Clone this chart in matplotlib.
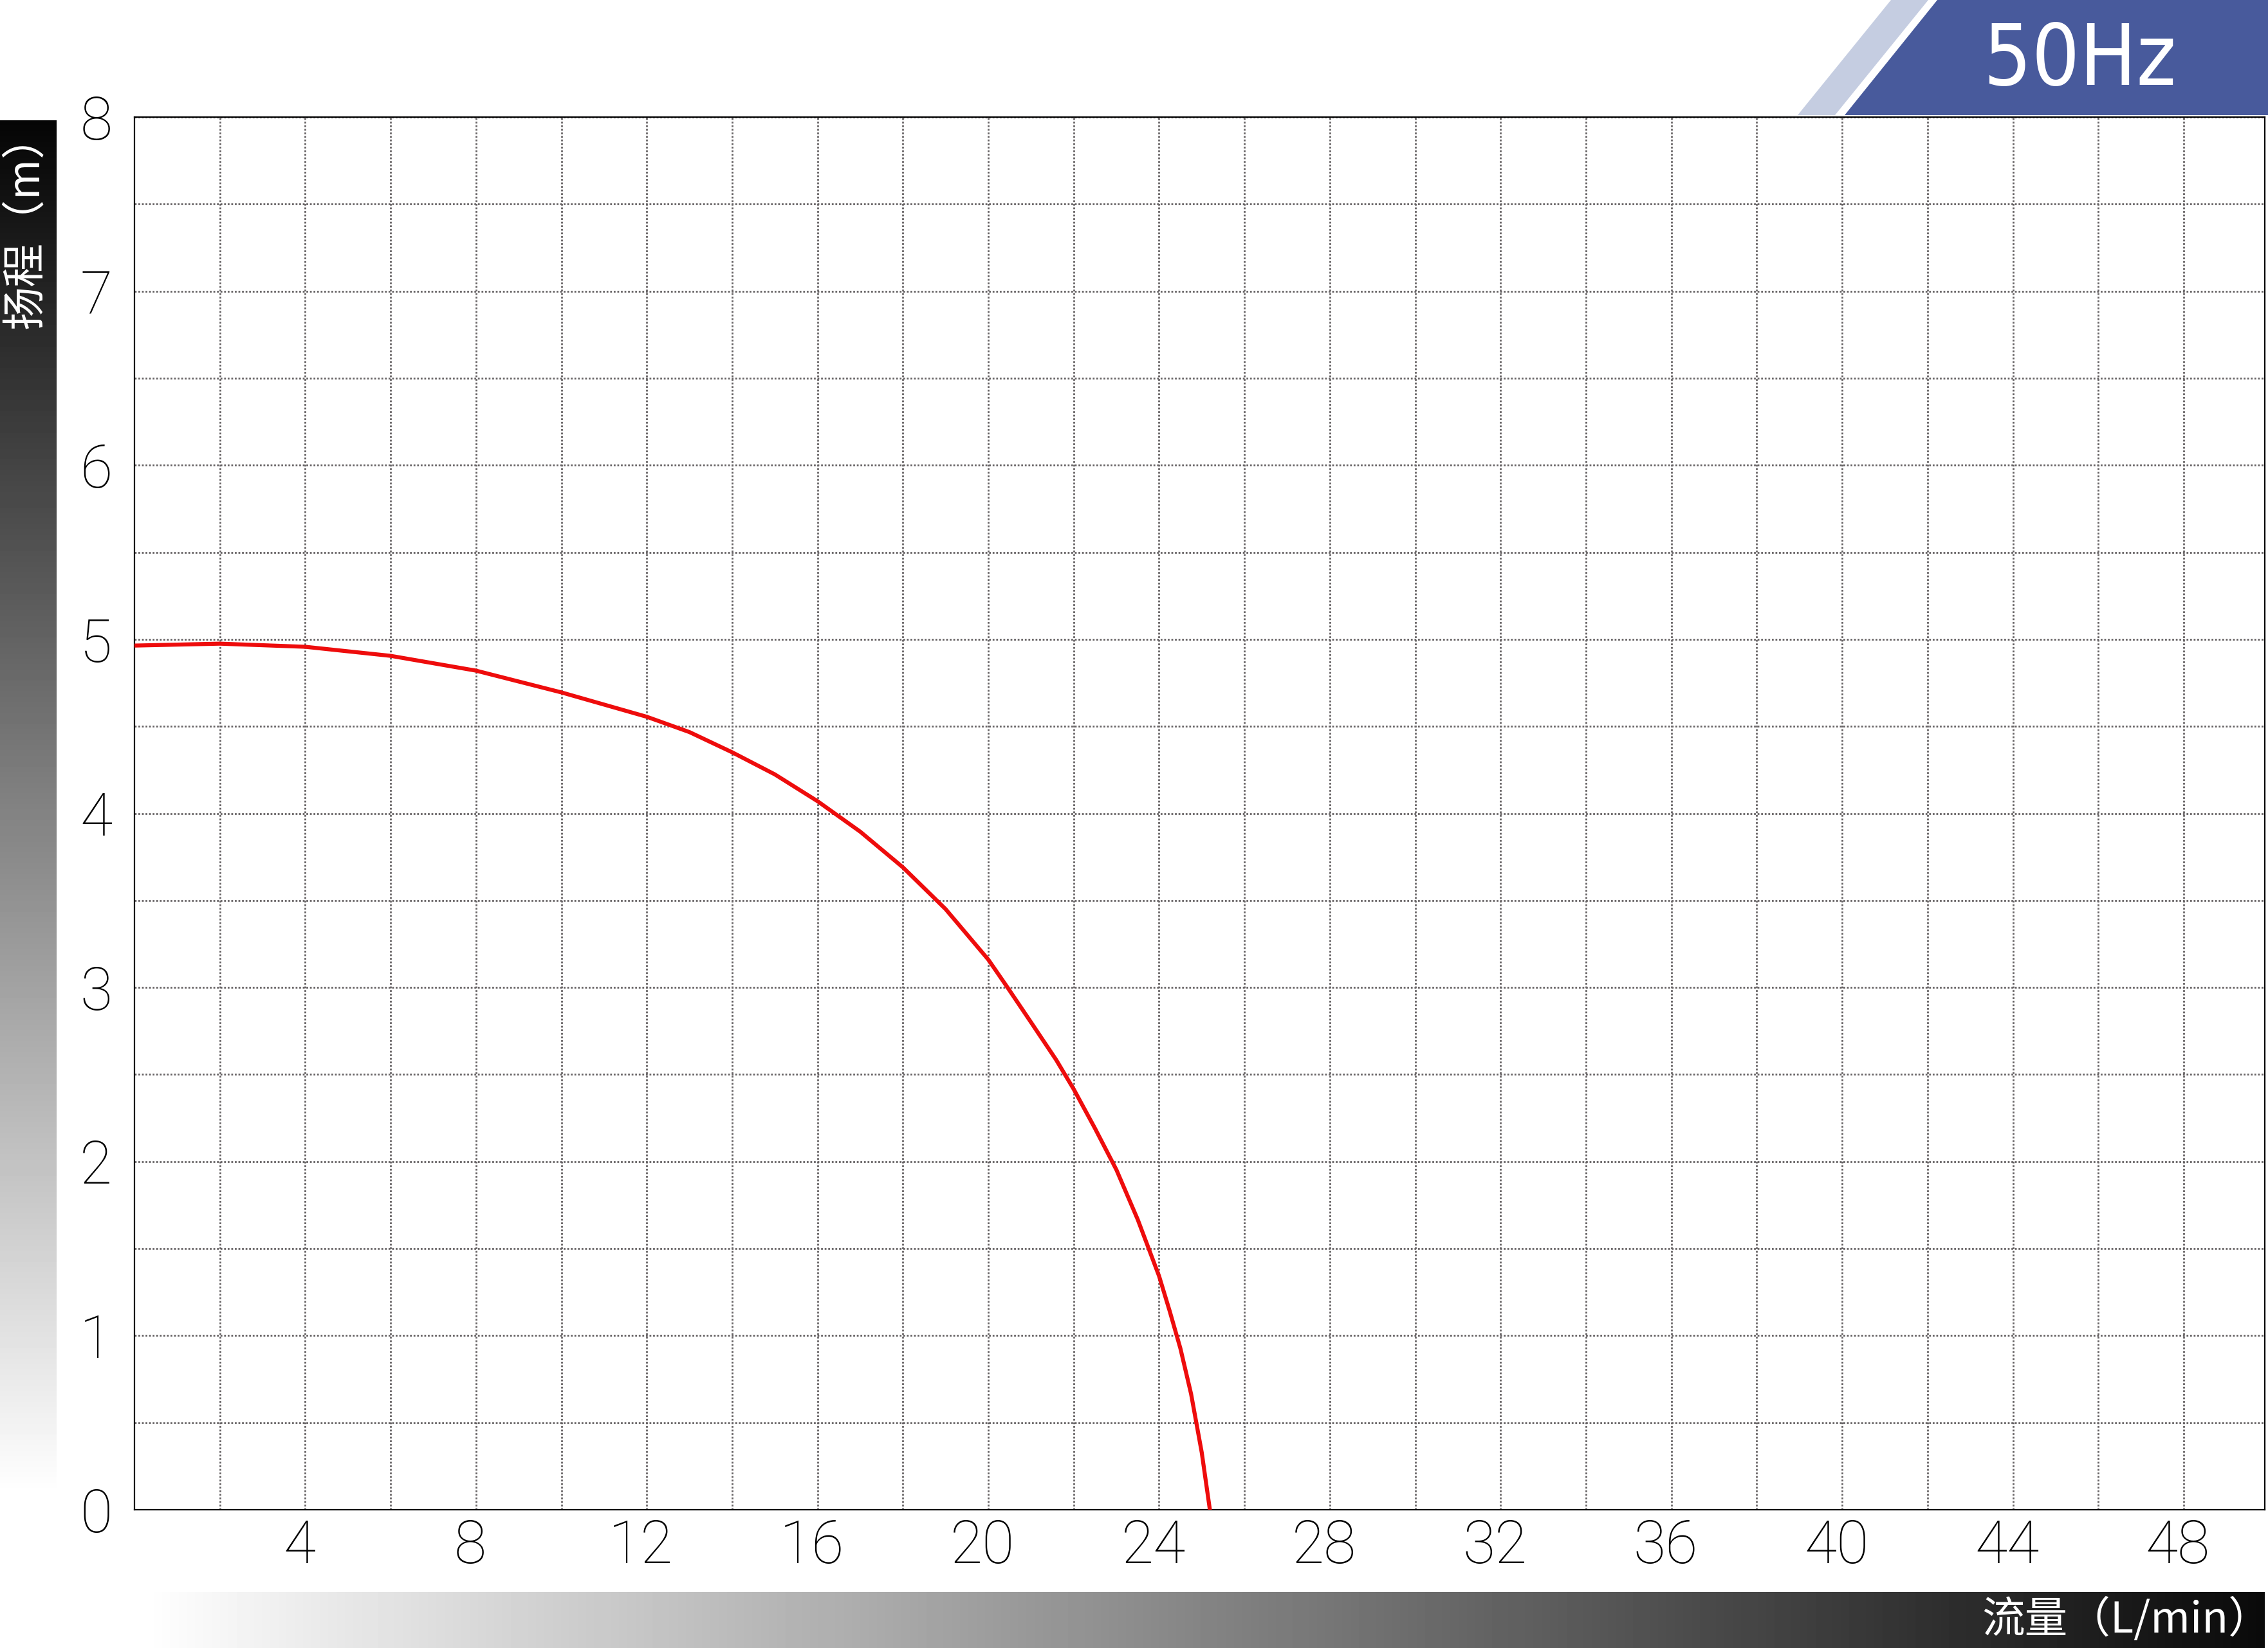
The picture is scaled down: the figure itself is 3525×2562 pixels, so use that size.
import numpy as np
import matplotlib
matplotlib.use("Agg")
import matplotlib.pyplot as plt
from matplotlib.patches import Polygon
from matplotlib.transforms import ScaledTranslation

# pump curve: flow (L/min) vs head (m)
flow = [0, 2, 4, 6, 8, 10, 12, 13, 14, 15, 16, 17, 18, 19, 20, 20.45, 21, 21.59,
        22, 22.5, 23, 23.5, 24, 24.25, 24.5, 24.75, 25, 25.19]
head = [4.964, 4.975, 4.957, 4.905, 4.82, 4.695, 4.555, 4.467, 4.351, 4.224, 4.07,
        3.895, 3.69, 3.45, 3.16, 3.0, 2.80, 2.584, 2.416, 2.19, 1.953, 1.667,
        1.342, 1.14, 0.926, 0.665, 0.328, 0.0]

x_ticks = [4, 8, 12, 16, 20, 24, 28, 32, 36, 40, 44, 48]
y_ticks = [0, 1, 2, 3, 4, 5, 6, 7, 8]
x_label = "流量（L/min）"
y_label = "扬程（m）"
badge = "50Hz"

W, H = 3525, 2562
plt.rcParams['font.family'] = ['Roboto', 'DejaVu Sans']
plt.rcParams['font.weight'] = 'light'

fig = plt.figure(figsize=(W / 100, H / 100), dpi=100)


def fx(x):
    return x / W


def fy(y):
    return 1 - y / H


# main plot area
ax = fig.add_axes([fx(209), fy(2347), fx(3520 - 209), (2347 - 182) / H])
ax.plot(flow, head, color='#ee0c0c', lw=4.5, solid_joinstyle='round', zorder=3)
ax.set_xlim(0, 49.9)
ax.set_ylim(0, 8)
ax.set_xticks(x_ticks)
ax.set_xticks(np.arange(2, 50, 4), minor=True)
ax.set_yticks(y_ticks)
ax.set_yticks(np.arange(0.5, 8, 1), minor=True)
ax.set_xticklabels([str(v) for v in x_ticks])
ax.set_yticklabels([str(v) for v in y_ticks])
ax.grid(True, which='both', color='#666264', lw=2.0, ls=(0, (1, 1)))
ax.set_axisbelow(True)
ax.tick_params(which='both', length=0)
ax.tick_params(axis='x', labelsize=66, pad=10)
ax.tick_params(axis='y', labelsize=66, pad=25)
shift = ScaledTranslation(-9 / 100, 0, fig.dpi_scale_trans)
for lbl in ax.get_xticklabels():
    lbl.set_transform(lbl.get_transform() + shift)
for s in ax.spines.values():
    s.set_linewidth(1.6)
    s.set_color('black')

# left gradient bar (black top -> white bottom)
axl = fig.add_axes([0, fy(2330), fx(88), (2330 - 187) / H])
axl.imshow(np.linspace(0.02, 1, 256)[:, None], cmap='gray', vmin=0, vmax=1, aspect='auto')
axl.axis('off')

# bottom gradient bar (white left -> black right)
axb = fig.add_axes([fx(213), 0, fx(3520 - 213), 87 / H])
axb.imshow(np.linspace(1, 0.04, 256)[None, :], cmap='gray', vmin=0, vmax=1, aspect='auto')
axb.axis('off')

cjk = ['Noto Sans CJK SC', 'DejaVu Sans']
fig.text(fx(40), fy(176), y_label, rotation=90, ha='center', va='top', color='white',
         fontsize=49, family=cjk, fontweight='normal')
fig.text(fx(3530), fy(2518), x_label, ha='right', va='center', color='white',
         fontsize=48, family=cjk, fontweight='normal')

# 50Hz badge
light = [(2794, 179), (2852, 179), (2997, 0), (2939, 0)]
dark = [(2867, 179), (3525, 179), (3525, 0), (3011, 0)]
fig.add_artist(Polygon([(fx(a), fy(b)) for a, b in light], closed=True,
                       facecolor='#c5cde1', edgecolor='none', transform=fig.transFigure))
fig.add_artist(Polygon([(fx(a), fy(b)) for a, b in dark], closed=True,
                       facecolor='#485a9c', edgecolor='none', transform=fig.transFigure))
fig.text(fx(3233), fy(95), badge, ha='center', va='center', color='white',
         fontsize=94, family=['DejaVu Sans'], fontstretch='condensed', fontweight='normal')

fig.savefig('out.png', dpi=100, facecolor='white')
